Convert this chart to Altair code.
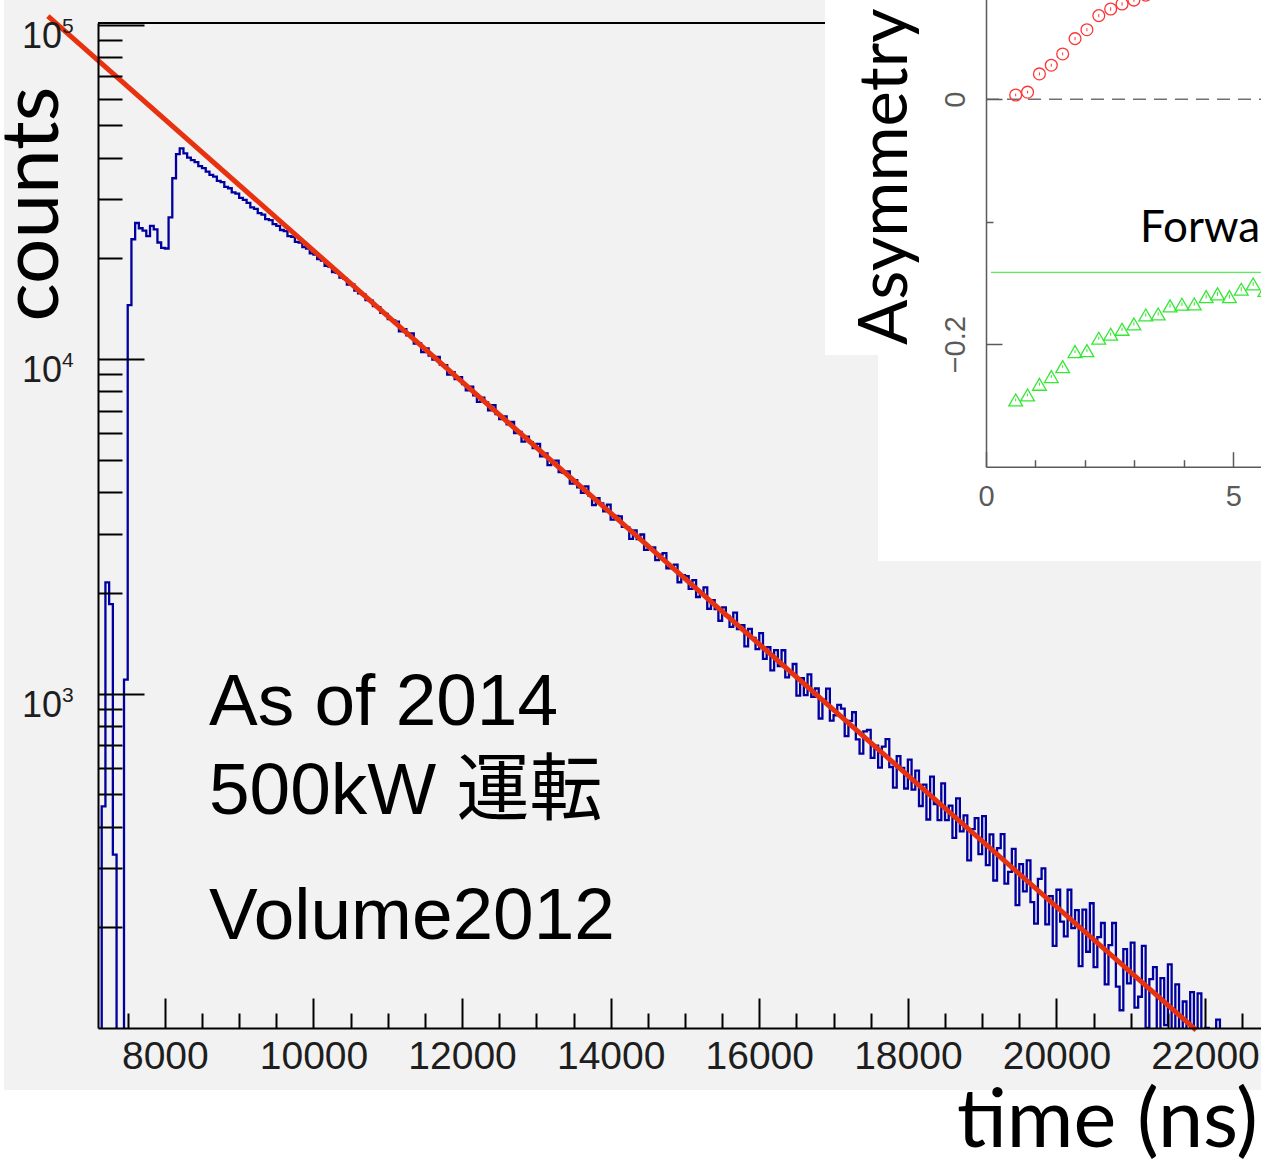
import altair as alt
import pandas as pd

# ------------------------------------------------------------------
# Main histogram: muon decay time spectrum (counts per 50 ns bin)
# ------------------------------------------------------------------
BIN_START = 7100
BIN_WIDTH = 50
counts = [
    40, 460, 2150, 1850, 330, 50, 50, 1100, 14500, 22800,
    25500, 24600, 24200, 23300, 25000, 24400, 22300, 21500, 21400, 26500,
    34700, 41000, 42650, 41200, 40000, 39300, 38800, 37700, 37200, 36300,
    35500, 35100, 34100, 33800, 32700, 32400, 31500, 31200, 30300, 29900,
    29300, 28400, 28100, 27300, 27000, 26200, 26000, 25300, 25000, 24300,
    24100, 23300, 23200, 22400, 22300, 21600, 21400, 20700, 20500, 19900,
    19700, 19000, 18900, 18200, 18100, 17500, 17400, 16700, 16700, 16000,
    15700, 15600, 15000, 14950, 14400, 14300, 13750, 13650, 13150, 13050,
    12928, 12106, 12284, 11761, 11927, 11117, 11135, 10485, 10759, 10240,
    9960, 10153, 9617, 9591, 8980, 9131, 8715, 8823, 8407, 8062,
    8269, 7792, 7448, 7667, 7421, 7024, 7278, 6839, 6612, 6735,
    6378, 6481, 6009, 6050, 5661, 5858, 5643, 5412, 5576, 5115,
    5222, 4814, 4952, 4971, 4593, 4568, 4610, 4239, 4346, 4136,
    3981, 4161, 3907, 3655, 3836, 3699, 3506, 3669, 3312, 3393,
    3385, 3147, 3145, 2901, 3075, 2893, 2988, 2687, 2714, 2733,
    2506, 2600, 2629, 2368, 2365, 2429, 2151, 2257, 2243, 2055,
    2182, 1943, 2006, 2076, 1792, 1901, 1789, 1650, 1808, 1707,
    1581, 1744, 1558, 1602, 1384, 1560, 1466, 1358, 1516, 1269,
    1375, 1172, 1348, 1208, 1347, 1118, 1142, 1225, 985, 1112,
    989, 1140, 978, 1035, 842, 959, 1034, 830, 861, 925,
    901, 746, 828, 879, 729, 661, 771, 779, 642, 698,
    600, 694, 730, 603, 523, 650, 599, 520, 634, 516,
    588, 461, 534, 420, 564, 467, 418, 539, 418, 462,
    370, 486, 387, 432, 317, 393, 424, 331, 430, 307,
    379, 276, 345, 380, 270, 293, 343, 233, 309, 256,
    317, 238, 205, 279, 300, 204, 248, 176, 259, 208,
    188, 259, 199, 225, 153, 226, 169, 236, 152, 187,
    206, 135, 177, 206, 133, 113, 172, 136, 180, 115,
    124, 176, 100, 140, 152, 87, 141, 102, 155, 90,
    135, 82, 120, 86, 128, 70, 127, 62, 100, 68,
    60, 106, 70, 62, 85, 55, 72, 64, 58, 80, 52, 66, 60,
]

# exponential fit drawn over the histogram (end points)
fit_time = [6426, 21880]
fit_counts = [106000, 98.6]

x_major_ticks = [8000, 10000, 12000, 14000, 16000, 18000, 20000, 22000]
x_minor_ticks = [7500, 8500, 9000, 9500, 10500, 11000, 11500, 12500, 13000,
                 13500, 14500, 15000, 15500, 16500, 17000, 17500, 18500,
                 19000, 19500, 20500, 21000, 21500, 22500]
y_major_ticks = [1000, 10000, 100000]
y_minor_ticks = [200, 300, 400, 500, 600, 700, 800, 900,
                 2000, 3000, 4000, 5000, 6000, 7000, 8000, 9000,
                 20000, 30000, 40000, 50000, 60000, 70000, 80000, 90000]
y_label_values = [1000, 10000, 100000]
y_label_base = ["10", "10", "10"]
y_label_exponents = ["3", "4", "5"]

annotation_lines = ["As of 2014", "500kW 運転", "Volume2012"]
x_title = "time (ns)"
y_title = "counts"

# ------------------------------------------------------------------
# Inset: asymmetry vs time (us)
# ------------------------------------------------------------------
inset_time = [0.60, 0.84, 1.08, 1.32, 1.55, 1.80, 2.04, 2.28, 2.52, 2.75, 2.99,
              3.23, 3.48, 3.72, 3.96, 4.21, 4.45, 4.68, 4.92, 5.16, 5.40, 5.64]
backward_asym = [0.0035, 0.0058, 0.0207, 0.0278, 0.0370, 0.0495, 0.0568,
                 0.0683, 0.0737, 0.0778, 0.0810, 0.0850]
backward_err = [0.0011, 0.0011, 0.0012, 0.0012, 0.0012, 0.0013, 0.0013,
                0.0013, 0.0014, 0.0014, 0.0014, 0.0015]
forward_asym = [-0.2455, -0.2414, -0.2327, -0.2264, -0.2183, -0.2060, -0.2052,
                -0.1951, -0.1918, -0.1878, -0.1834, -0.1761, -0.1753, -0.1687,
                -0.1673, -0.1671, -0.1611, -0.1589, -0.1611, -0.1551, -0.1508,
                -0.1560]
forward_err = [0.0011, 0.0011, 0.0012, 0.0012, 0.0012, 0.0013, 0.0013, 0.0013,
               0.0013, 0.0014, 0.0014, 0.0014, 0.0014, 0.0015, 0.0015, 0.0015,
               0.0016, 0.0016, 0.0016, 0.0017, 0.0017, 0.0017]
forward_fit_level = -0.1413
inset_x_major = [0, 5]
inset_x_minor = [1, 2, 3, 4]
inset_y_major = [0, -0.2]
inset_y_minor = [-0.1]
inset_y_title = "Asymmetry"
inset_label = "Forward"

# ------------------------------------------------------------------
# Layout
# ------------------------------------------------------------------
W, H = 1163, 1005
PAD_L, PAD_T, PAD_B = 98, 23, 137
BLUE = "#0000a0"
RED = "#e8320f"
GRAY_BG = "#f2f2f2"
INSET_AX = "#5a5a5a"
SANS = "Liberation Sans"
HUMAN = "Lato"

xs = alt.Scale(domain=[7100, 22753], nice=False, zero=False)
ys = alt.Scale(type="log", domain=[100, 101040], nice=False)

IX0 = 888
IUNIT = 49.47
ixs = alt.Scale(domain=[0, 6], range=[IX0, IX0 + 6 * IUNIT], nice=False, zero=False)
iys = alt.Scale(domain=[-0.3, 0.1], range=[443.7, -46.2], nice=False, zero=False)

one = pd.DataFrame({"a": [0]})
common = dict(grid=False, title=None, zindex=1)

# --- main data frames
hist_df = pd.DataFrame({
    "t": [BIN_START + BIN_WIDTH * i for i in range(len(counts) + 1)],
    "c": counts + [counts[-1]],
})
fit_df = pd.DataFrame({"t": fit_time, "c": fit_counts})
ylab_df = pd.DataFrame({"v": y_label_values, "base": y_label_base,
                        "exp": y_label_exponents})
frame_df = pd.DataFrame({"t0": [xs.domain[0]], "t1": [xs.domain[1]],
                         "c": [ys.domain[1]]})
carrier = pd.DataFrame({"t": [8000], "c": [1000], "ix": [1.0], "iy": [-0.1]})

bg = alt.Chart(one).mark_rect(color=GRAY_BG).encode(
    x=alt.value(-94), x2=alt.value(W), y=alt.value(-PAD_T), y2=alt.value(1067))

top_frame = alt.Chart(frame_df).mark_rule(color="black", strokeWidth=2).encode(
    x=alt.X("t0:Q", scale=xs, axis=None), x2="t1:Q",
    y=alt.Y("c:Q", scale=ys, axis=None))

hist = alt.Chart(hist_df).mark_line(
    interpolate="step-after", clip=True, color=BLUE, strokeWidth=2.3).encode(
    x=alt.X("t:Q", scale=xs, axis=alt.Axis(
        orient="bottom", values=x_major_ticks, ticks=False, format="d",
        labelFont=SANS, labelFontSize=39, labelColor="#1e1e1e", labelPadding=9,
        labelFlush=False, labelOverlap=False, domainColor="black",
        domainWidth=2, **common)),
    y=alt.Y("c:Q", scale=ys, axis=alt.Axis(
        orient="left", labels=False, ticks=False, domainColor="black",
        domainWidth=2, **common)))

fit = alt.Chart(fit_df).mark_line(color=RED, strokeWidth=5).encode(
    x=alt.X("t:Q", scale=xs, axis=None), y=alt.Y("c:Q", scale=ys, axis=None))


def x_ticks(values, size):
    return alt.Chart(carrier).mark_point(opacity=0).encode(
        x=alt.X("t:Q", scale=xs, axis=alt.Axis(
            orient="top", offset=-H, values=values, labels=False, domain=False,
            tickSize=size, tickWidth=2, tickColor="black", **common)))


def y_ticks(values, size):
    return alt.Chart(carrier).mark_point(opacity=0).encode(
        y=alt.Y("c:Q", scale=ys, axis=alt.Axis(
            orient="right", offset=-W, values=values, labels=False, domain=False,
            tickSize=size, tickWidth=2, tickColor="black", **common)))


ylab_base = alt.Chart(ylab_df).mark_text(
    font=SANS, fontSize=36, align="right", baseline="alphabetic", dy=23,
    color="#1e1e1e").encode(
    x=alt.value(-36), y=alt.Y("v:Q", scale=ys, axis=None), text="base:N")
ylab_exp = alt.Chart(ylab_df).mark_text(
    font=SANS, fontSize=21, align="left", baseline="alphabetic", dy=8,
    color="#1e1e1e").encode(
    x=alt.value(-36), y=alt.Y("v:Q", scale=ys, axis=None), text="exp:N")

ANN_FONT = "Liberation Sans, 'Noto Sans CJK JP', sans-serif"
ann = [
    alt.Chart(one).mark_text(text=annotation_lines[i], font=ANN_FONT, fontSize=73,
                             align="left", baseline="alphabetic", color="black")
    .encode(x=alt.value(111), y=alt.value(yy))
    for i, yy in enumerate([702, 791, 916])
]

counts_title = alt.Chart(one).mark_text(
    text=y_title, font=HUMAN, fontSize=80, angle=270, align="center",
    baseline="alphabetic", color="black").encode(
    x=alt.value(-40), y=alt.value(181))
time_title = alt.Chart(one).mark_text(
    text=x_title, font=HUMAN, fontSize=81, align="right",
    baseline="alphabetic", color="black").encode(
    x=alt.value(1160), y=alt.value(1124))

main = alt.layer(
    bg, top_frame, hist, fit,
    x_ticks(x_major_ticks, 30), x_ticks(x_minor_ticks, 15),
    y_ticks(y_major_ticks, 46), y_ticks(y_minor_ticks, 24),
    ylab_base, ylab_exp, *ann, counts_title, time_title,
).resolve_axis(x="independent", y="independent")

# --- inset
bwd_df = pd.DataFrame({"x": inset_time[:len(backward_asym)], "y": backward_asym,
                       "lo": [a - e for a, e in zip(backward_asym, backward_err)],
                       "hi": [a + e for a, e in zip(backward_asym, backward_err)]})
fwd_df = pd.DataFrame({"x": inset_time[:len(forward_asym)], "y": forward_asym,
                       "lo": [a - e for a, e in zip(forward_asym, forward_err)],
                       "hi": [a + e for a, e in zip(forward_asym, forward_err)]})
zero_df = pd.DataFrame({"x0": [0], "x1": [6], "y": [0]})
ffit_df = pd.DataFrame({"x0": [0.1], "x1": [6], "y": [forward_fit_level]})

white_a = alt.Chart(one).mark_rect(color="white").encode(
    x=alt.value(780), x2=alt.value(W), y=alt.value(-PAD_T), y2=alt.value(538))
white_b = alt.Chart(one).mark_rect(color="white").encode(
    x=alt.value(727), x2=alt.value(781), y=alt.value(-PAD_T), y2=alt.value(332))

zero_line = alt.Chart(zero_df).mark_rule(
    color="#707070", strokeWidth=1.5, strokeDash=[13, 8]).encode(
    x=alt.X("x0:Q", scale=ixs, axis=None), x2="x1:Q",
    y=alt.Y("y:Q", scale=iys, axis=None))
ffit_line = alt.Chart(ffit_df).mark_rule(color="#55f055", strokeWidth=1.3).encode(
    x=alt.X("x0:Q", scale=ixs, axis=None), x2="x1:Q",
    y=alt.Y("y:Q", scale=iys, axis=None))


def err_layer(df, color):
    return alt.Chart(df).mark_rule(color=color, strokeWidth=1).encode(
        x=alt.X("x:Q", scale=ixs, axis=None),
        y=alt.Y("lo:Q", scale=iys, axis=None), y2="hi:Q")


def pts_layer(df, color, shape, size):
    return alt.Chart(df).mark_point(
        shape=shape, filled=False, size=size, color=color, strokeWidth=1.3,
        opacity=1).encode(
        x=alt.X("x:Q", scale=ixs, axis=None), y=alt.Y("y:Q", scale=iys, axis=None))


RED_PT = "#ff3535"
GREEN_PT = "#33e833"

forward_text = alt.Chart(one).mark_text(
    text=inset_label, font=HUMAN, fontSize=44, align="left",
    baseline="alphabetic", color="black").encode(
    x=alt.value(1042), y=alt.value(219))
asym_title = alt.Chart(one).mark_text(
    text=inset_y_title, font=HUMAN, fontSize=67, angle=270, align="left",
    baseline="alphabetic", color="black").encode(
    x=alt.value(809), y=alt.value(322))

ix_labels = alt.Chart(carrier).mark_point(opacity=0).encode(
    x=alt.X("ix:Q", scale=ixs, axis=alt.Axis(
        orient="bottom", offset=-(H - 443.7), values=inset_x_major, ticks=False,
        format="d", labelFont=SANS, labelFontSize=29, labelColor=INSET_AX,
        labelPadding=16, labelFlush=False, domainColor=INSET_AX,
        domainWidth=1.5, **common)))


def ix_ticks(values, size):
    return alt.Chart(carrier).mark_point(opacity=0).encode(
        x=alt.X("ix:Q", scale=ixs, axis=alt.Axis(
            orient="top", offset=-443.7, values=values, labels=False,
            domain=False, tickSize=size, tickWidth=1.5, tickColor=INSET_AX,
            **common)))


iy_labels = alt.Chart(carrier).mark_point(opacity=0).encode(
    y=alt.Y("iy:Q", scale=iys, axis=alt.Axis(
        orient="left", offset=-IX0, values=inset_y_major, ticks=False,
        format=".1~f", labelFont=SANS, labelFontSize=29, labelColor=INSET_AX,
        labelAngle=270, labelAlign="center", labelBaseline="bottom",
        labelPadding=16, labelFlush=False, domainColor=INSET_AX,
        domainWidth=1.5, **common)))


def iy_ticks(values, size):
    return alt.Chart(carrier).mark_point(opacity=0).encode(
        y=alt.Y("iy:Q", scale=iys, axis=alt.Axis(
            orient="right", offset=-(W - IX0), values=values, labels=False,
            domain=False, tickSize=size, tickWidth=1.5, tickColor=INSET_AX,
            **common)))


inset = alt.layer(
    white_a, white_b, zero_line, ffit_line,
    err_layer(bwd_df, RED_PT), pts_layer(bwd_df, RED_PT, "circle", 140),
    err_layer(fwd_df, GREEN_PT), pts_layer(fwd_df, GREEN_PT, "triangle-up", 190),
    forward_text, asym_title,
    ix_labels, ix_ticks(inset_x_major, 15), ix_ticks(inset_x_minor, 7),
    iy_labels, iy_ticks(inset_y_major, 16), iy_ticks(inset_y_minor, 7),
).resolve_axis(x="independent", y="independent")

chart = alt.layer(main, inset).resolve_scale(
    x="independent", y="independent").properties(
    width=W, height=H,
    padding={"left": PAD_L, "top": PAD_T, "right": 0, "bottom": PAD_B},
    autosize=alt.AutoSizeParams(type="none"),
    background="white",
).configure_view(stroke=None).configure_axis(grid=False)

chart.save("out.html", embed_options={"renderer": "svg", "actions": False})
